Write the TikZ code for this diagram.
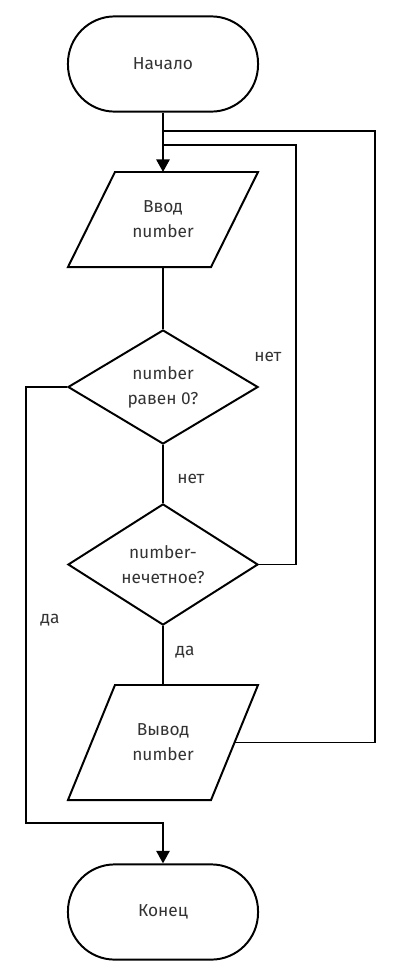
\documentclass[tikz,border=0pt]{standalone}
\usepackage{fontspec}
\setmainfont{Fira Sans}
\usetikzlibrary{shapes.geometric,calc,arrows.meta}

\begin{document}
\begin{tikzpicture}[x=0.025cm,y=-0.025cm,
    every node/.style={font=\fontsize{12.3}{17.7}\selectfont,text=black!80,align=center},
    term/.style={draw,rectangle,rounded corners=1.17cm,minimum width=4.75cm,minimum height=2.38cm,line width=1.4pt},
    io/.style={rectangle,minimum width=4.75cm,outer sep=0pt},
    cond/.style={draw,diamond,minimum width=4.75cm,minimum height=2.85cm,inner sep=0pt,line width=1.4pt},
    line/.style={line width=1.4pt},
    flow/.style={line width=1.4pt,-{Triangle[length=9pt,width=9.5pt]}}]
  \useasboundingbox (0,0) rectangle (401,967);
  \node[term] (start) at (163,64) {Начало};
  \node[io,minimum height=2.375cm] (in) at (163,219.5) {Ввод\\number};
  \node[cond] (d1) at (163,387) {number\\равен 0?};
  \node[cond] (d2) at (163,564.5) {number-\\нечетное?};
  \node[io,minimum height=2.875cm] (out) at (163,742.5) {Вывод\\number};
  \node[term] (end) at (163,912) {Конец};
  % parallelograms
  \draw[line,line join=miter] (in.south west) -- ($(in.north west)+(47,0)$) -- (in.north east) -- ($(in.south east)+(-47,0)$) -- cycle;
  \draw[line,line join=miter] (out.south west) -- ($(out.north west)+(47,0)$) -- (out.north east) -- ($(out.south east)+(-47,0)$) -- cycle;
  \coordinate (outr) at ($(out.north east)!0.5!($(out.south east)+(-47,0)$)$);
  % labels
  \node (no1) at (268,357) {нет};
  \node (no2) at (191,479) {нет};
  \node (yes1) at (50,620) {да};
  \node (yes2) at (185,652) {да};
  % junctions
  \coordinate (j1) at (163,131);
  \coordinate (j1r) at (375,131);
  \coordinate (j2) at (163,145);
  \coordinate (j2r) at (296,145);
  \coordinate (j3) at (163,823);
  \draw[flow] (start) -- (in);
  \draw[line] (in) -- (d1);
  \draw[line] (d1) -- (d2);
  \draw[line] (d2) -- (out);
  \draw[line] (d2.east) -| (j2r) -- (j2);
  \draw[line] (outr) -| (j1r) -- (j1);
  \draw[flow] (d1.west) -- ++(-41,0) |- (j3) -- (end);
\end{tikzpicture}
\end{document}
